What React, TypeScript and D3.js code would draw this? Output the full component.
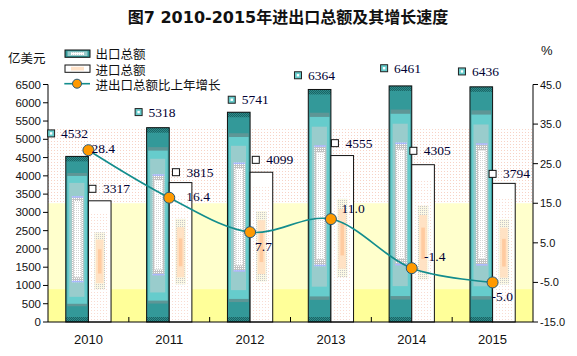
import React from 'react';
import * as d3 from 'd3';

// ---- data ----
const years = ['2010', '2011', '2012', '2013', '2014', '2015'];
const exportTotal = [4532, 5318, 5741, 6364, 6461, 6436];
const importTotal = [3317, 3815, 4099, 4555, 4305, 3794];
const growth = [28.4, 16.4, 7.7, 11.0, -1.4, -5.0];
const leftTicks = [0, 500, 1000, 1500, 2000, 2500, 3000, 3500, 4000, 4500, 5000, 5500, 6000, 6500];
const rightTicks = [-15, -5, 5, 15, 25, 35, 45];
const legendLabels = ['出口总额', '进口总额', '进出口总额比上年增长'];
const titleText = '图7 2010-2015年进出口总额及其增长速度';

// manual label nudges (px, relative to computed anchors)
const exportLabelNudge = [[-14.7, -23], [-8, -15.6], [4.3, -12.5], [-10.3, -14.2], [-5, -17.7], [-8, -15.4]];
const importLabelNudge = [[4, -12], [6.7, -10.4], [5.7, -12.4], [4, -12.4], [1.6, -13.9], [0, -9.5]];
const growthLabelNudge = [[3, -2], [17, -1], [5, 14.6], [10.7, -10.8], [12.3, -11.5], [-1, 14.3]];

const W = 577, H = 356;
const PL = 48, PR = 533, PT = 84.5, PB = 322;

const sans = '"Liberation Sans", Arial, sans-serif';
const serif = '"Liberation Serif", "Times New Roman", serif';
const cjk = '"Noto Sans CJK SC", "Noto Sans", sans-serif';

function ExportBar({ x0, y0, w, h }: { x0: number; y0: number; w: number; h: number }) {
  const f = (a: number) => y0 + a * h;
  return (
    <g>
      <rect x={x0} y={y0} width={w} height={h} fill="#339999" />
      <rect x={x0} y={y0} width={w} height={5} fill="url(#checker)" />
      <rect x={x0} y={y0 + h - 5} width={w} height={5} fill="url(#checker)" />
      <rect x={x0 + 1.5} y={f(0.1)} width={w - 3} height={f(0.905) - f(0.1)} fill="#5E9696" />
      <rect x={x0 + 1.5} y={f(0.118)} width={w - 3} height={f(0.89) - f(0.118)} fill="#66CCCC" />
      <rect x={x0 + 3.5} y={f(0.16)} width={w - 7.5} height={f(0.848) - f(0.16)} fill="#99CCCC" />
      <rect x={x0 + 6} y={f(0.24)} width={w - 11} height={f(0.76) - f(0.24)} fill="url(#grayDots)" />
      <rect x={x0 + 6} y={f(0.24)} width={w - 11} height={1.5} fill="#A8B8FF" />
      <rect x={x0 + 6} y={f(0.76) - 1.5} width={w - 11} height={1.5} fill="#A8B8FF" />
      <rect x={x0 + 8} y={f(0.27)} width={w - 15} height={f(0.73) - f(0.27)} fill="url(#whiteDots)" />
      <rect x={x0} y={y0} width={w} height={h} fill="none" stroke="#111" strokeWidth={1} />
    </g>
  );
}

function ImportBar({ x0, y0, w, h }: { x0: number; y0: number; w: number; h: number }) {
  const f = (a: number) => y0 + a * h;
  return (
    <g>
      <rect x={x0} y={y0} width={w} height={h} fill="#fff" />
      <rect x={x0 + 2} y={f(0.1)} width={w - 4} height={f(0.99) - f(0.1)} fill="url(#pinkDotsFaint)" />
      <rect x={x0 + 6} y={f(0.26)} width={w - 12} height={f(0.73) - f(0.26)} fill="url(#yellowGrayDots)" />
      <rect x={x0 + 7.5} y={f(0.32)} width={w - 15} height={f(0.68) - f(0.32)} fill="#FFE2C4" />
      <rect x={x0 + 9.5} y={f(0.4)} width={w - 19} height={f(0.6) - f(0.4)} fill="#FFCBA0" />
      <rect x={x0} y={y0} width={w} height={h} fill="none" stroke="#111" strokeWidth={1} />
    </g>
  );
}

export default function App() {
  const x = d3.scaleBand<string>().domain(years).range([PL, PR]).padding(0);
  const yL = d3.scaleLinear().domain([0, 6500]).range([PB, PT]);
  const yR = d3.scaleLinear().domain([-15, 45]).range([PB, PT]);
  const bw = x.bandwidth() * 0.28;
  const cx = (i: number) => (x(years[i]) as number) + x.bandwidth() / 2;

  const linePath = d3
    .line<number>()
    .x((_, i) => cx(i))
    .y((d) => yR(d))
    .curve(d3.curveCatmullRom.alpha(0.5))(growth) as string;

  const bandEdges = years.slice(1).map((yr) => x(yr) as number);

  return (
    <svg width={W} height={H} style={{ position: 'absolute', left: 0, top: 0, background: '#fff' }}>
      <defs>
        <pattern id="pinkDots" width="3" height="3" patternUnits="userSpaceOnUse">
          <rect x="0" y="0" width="1" height="1" fill="#F7D3C6" />
        </pattern>
        <pattern id="pinkDotsFaint" width="3" height="3" patternUnits="userSpaceOnUse">
          <rect x="1" y="1" width="1" height="1" fill="#F9DCD2" />
        </pattern>
        <pattern id="grayDots" width="2" height="2" patternUnits="userSpaceOnUse">
          <rect width="2" height="2" fill="#C2C2C2" />
          <rect width="1" height="1" fill="#FFFFFF" />
        </pattern>
        <pattern id="whiteDots" width="2" height="2" patternUnits="userSpaceOnUse">
          <rect width="2" height="2" fill="#FFFFFF" />
          <rect width="1" height="1" fill="#D4D4D4" />
        </pattern>
        <pattern id="checker" width="2" height="2" patternUnits="userSpaceOnUse">
          <rect width="2" height="2" fill="#2E8C8C" />
          <rect width="1" height="1" fill="#1A6464" />
          <rect x="1" y="1" width="1" height="1" fill="#1A6464" />
        </pattern>
        <pattern id="yellowGrayDots" width="2" height="2" patternUnits="userSpaceOnUse">
          <rect width="2" height="2" fill="#FBF8E4" />
          <rect width="1" height="1" fill="#C8C8C8" />
        </pattern>
      </defs>

      {/* title */}
      <text x={288} y={17} textAnchor="middle" dominantBaseline="central" fontFamily={'"DejaVu Sans", ' + cjk} fontWeight="bold" fontSize={16} fill="#111">
        {titleText}
      </text>

      {/* background bands */}
      <rect x={PL} y={yL(5280)} width={PR - PL} height={yL(3250) - yL(5280)} fill="url(#pinkDots)" />
      <rect x={PL} y={yL(3250)} width={PR - PL} height={yL(900) - yL(3250)} fill="#FFFFCC" />
      <rect x={PL} y={yL(900)} width={PR - PL} height={yL(0) - yL(900)} fill="#FFFF99" />

      {/* bars */}
      {years.map((yr, i) => {
        const c = cx(i);
        const ye = yL(exportTotal[i]);
        const yi = yL(importTotal[i]);
        return (
          <g key={yr}>
            <ExportBar x0={c - bw} y0={ye} w={bw} h={PB - ye} />
            <ImportBar x0={c} y0={yi} w={bw} h={PB - yi} />
          </g>
        );
      })}

      {/* axes */}
      <line x1={PL} x2={PL} y1={PT} y2={PB} stroke="#000" />
      <line x1={PR} x2={PR} y1={PT} y2={PB} stroke="#000" />
      <line x1={PL} x2={PR} y1={PB} y2={PB} stroke="#000" />
      {leftTicks.map((t) => (
        <g key={'l' + t}>
          <line x1={PL - 5} x2={PL} y1={yL(t)} y2={yL(t)} stroke="#000" />
          <text x={PL - 7} y={yL(t)} textAnchor="end" dominantBaseline="central" fontFamily={sans} fontSize={11.5} fill="#111">
            {t}
          </text>
        </g>
      ))}
      {rightTicks.map((t) => (
        <g key={'r' + t}>
          <line x1={PR} x2={PR + 5} y1={yR(t)} y2={yR(t)} stroke="#000" />
          <text x={PR + 7} y={yR(t)} textAnchor="start" dominantBaseline="central" fontFamily={sans} fontSize={11} fill="#111">
            {t.toFixed(1)}
          </text>
        </g>
      ))}
      {bandEdges.map((bx, i) => (
        <line key={'xt' + i} x1={bx} x2={bx} y1={PB - 5} y2={PB} stroke="#000" />
      ))}
      {years.map((yr, i) => (
        <text key={'xl' + yr} x={cx(i)} y={339} textAnchor="middle" dominantBaseline="central" fontFamily={sans} fontSize={13} fill="#111">
          {yr}
        </text>
      ))}

      {/* axis units */}
      <text x={8} y={57} dominantBaseline="central" fontFamily={cjk} fontSize={12.5} fill="#111">亿美元</text>
      <text x={541} y={50} dominantBaseline="central" fontFamily={sans} fontSize={13} fill="#111">%</text>

      {/* growth line */}
      <path d={linePath} fill="none" stroke="#138D8D" strokeWidth={1.6} />
      {growth.map((g, i) => (
        <circle key={'pt' + i} cx={cx(i)} cy={yR(g)} r={5.5} fill="#FF9900" stroke="#23587A" strokeWidth={1} />
      ))}

      {/* export labels */}
      {exportTotal.map((v, i) => {
        const ix = cx(i) - bw + exportLabelNudge[i][0];
        const iy = yL(v) + exportLabelNudge[i][1];
        return (
          <g key={'el' + i}>
            <rect x={ix - 3.5} y={iy - 3.5} width={7} height={7} fill="#66CCCC" stroke="#222" strokeWidth={1} />
            <rect x={ix - 1.2} y={iy - 1.2} width={2.4} height={2.4} fill="#fff" />
            <text x={ix + 10} y={iy} dominantBaseline="central" fontFamily={serif} fontSize={13.5} fill="#000033">
              {v}
            </text>
          </g>
        );
      })}

      {/* import labels */}
      {importTotal.map((v, i) => {
        const ix = cx(i) + importLabelNudge[i][0];
        const iy = yL(v) + importLabelNudge[i][1];
        return (
          <g key={'il' + i}>
            <rect x={ix - 3.5} y={iy - 3.5} width={7} height={7} fill="#fff" stroke="#111" strokeWidth={1} />
            <text x={ix + 10.5} y={iy} dominantBaseline="central" fontFamily={serif} fontSize={13.5} fill="#000033">
              {v}
            </text>
          </g>
        );
      })}

      {/* growth labels */}
      {growth.map((g, i) => (
        <text
          key={'gl' + i}
          x={cx(i) + growthLabelNudge[i][0]}
          y={yR(g) + growthLabelNudge[i][1]}
          dominantBaseline="central"
          fontFamily={serif}
          fontSize={13.5}
          fill="#000033"
        >
          {g.toFixed(1)}
        </text>
      ))}

      {/* legend */}
      <g>
        <rect x={65} y={50} width={25} height={7.3} fill="#339999" stroke="#111" strokeWidth={1} />
        <rect x={67.5} y={51.3} width={20} height={4.7} fill="#99CCCC" />
        <rect x={71} y={52.3} width={13} height={2.7} fill="url(#whiteDots)" />
        <text x={95.5} y={53.5} dominantBaseline="central" fontFamily={cjk} fontSize={12.5} fill="#111">{legendLabels[0]}</text>

        <rect x={65} y={65} width={25} height={7.3} fill="#fff" stroke="#111" strokeWidth={1} />
        <rect x={71} y={66.8} width={13} height={3.7} fill="#FFE2C8" />
        <text x={95.5} y={69} dominantBaseline="central" fontFamily={cjk} fontSize={12.5} fill="#111">{legendLabels[1]}</text>

        <line x1={64.3} x2={90} y1={83.7} y2={83.7} stroke="#138D8D" strokeWidth={1.6} />
        <circle cx={77} cy={83.7} r={4.5} fill="#FF9900" stroke="#23587A" strokeWidth={1} />
        <text x={95.5} y={84.5} dominantBaseline="central" fontFamily={cjk} fontSize={12.5} fill="#111">{legendLabels[2]}</text>
      </g>
    </svg>
  );
}
